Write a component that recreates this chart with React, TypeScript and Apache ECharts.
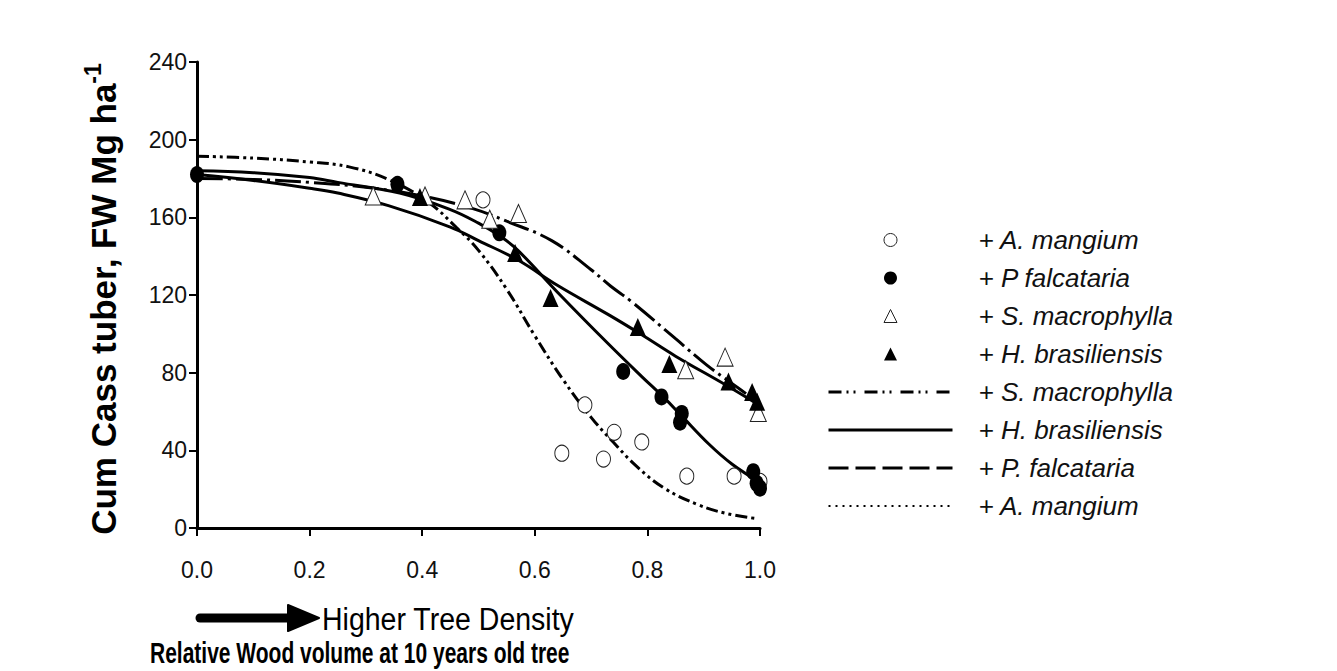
import React, { useEffect, useRef } from 'react';
import * as echarts from 'echarts';

// ---------- data ----------
const yTicks = { min: 0, max: 240, interval: 40 };
const xTicks = { min: 0, max: 1, interval: 0.2 };

// observed points [relative wood volume, cum cassava tuber FW Mg/ha]
const obsAMangium: number[][] = [
  [0.508, 169], [0.648, 38.5], [0.689, 63.4], [0.722, 35.5], [0.741, 49.3],
  [0.79, 44.3], [0.87, 26.7], [0.954, 26.7], [1.0, 24],
];
const obsPFalcataria: number[][] = [
  [0.0, 182], [0.356, 177], [0.537, 152], [0.757, 80.6], [0.825, 67.5],
  [0.861, 59], [0.858, 54.5], [0.988, 29], [0.994, 23], [1.0, 20.5],
];
const obsSMacrophylla: number[][] = [
  [0.313, 171], [0.405, 171], [0.476, 169], [0.52, 159], [0.571, 162],
  [0.868, 81.5], [0.938, 88], [0.997, 59.5],
];
const obsHBrasiliensis: number[][] = [
  [0.396, 170.5], [0.565, 141.6], [0.628, 118.4], [0.783, 103.5], [0.839, 84.4],
  [0.944, 75.4], [0.986, 70], [0.995, 65],
];

// fitted curves
const fitSMacrophylla: number[][] = [
  [0, 180], [0.1, 179.5], [0.2, 178], [0.3, 175.5], [0.4, 171], [0.49, 164.5],
  [0.55, 158], [0.63, 148], [0.7, 133], [0.735, 124.5], [0.77, 117], [0.85, 97.5],
  [0.905, 84], [0.95, 74.5], [1.0, 64],
];
const fitHBrasiliensis: number[][] = [
  [0, 182], [0.1, 179], [0.2, 175], [0.25, 172.5], [0.34, 166], [0.45, 155],
  [0.5, 148], [0.57, 138], [0.64, 125], [0.73, 110], [0.79, 99.5], [0.85, 88.5],
  [0.94, 73.5], [1.0, 63],
];
const fitPFalcataria: number[][] = [
  [0, 184], [0.1, 183], [0.2, 180.5], [0.25, 178], [0.36, 172.5], [0.45, 164],
  [0.5, 157], [0.54, 150], [0.57, 143], [0.645, 120], [0.73, 95], [0.79, 78],
  [0.83, 67], [0.86, 58], [0.91, 43], [0.95, 33], [1.0, 23.5],
];
const fitAMangium: number[][] = [
  [0, 191.5], [0.1, 190.5], [0.2, 188.5], [0.27, 186], [0.34, 179.5], [0.41, 168],
  [0.46, 155], [0.5, 143], [0.55, 123], [0.6, 99], [0.65, 76.5], [0.7, 57],
  [0.74, 44], [0.78, 32], [0.83, 20.5], [0.89, 12], [0.94, 7.5], [0.99, 5],
];

const legendLabels: Record<string, string> = {
  obsA: '+ A. mangium',
  obsP: '+ P falcataria',
  obsS: '+ S. macrophylla',
  obsH: '+ H. brasiliensis',
  fitS: '+ S. macrophylla',
  fitH: '+ H. brasiliensis',
  fitP: '+ P. falcataria',
  fitA: '+ A. mangium',
};

const yTitle = 'Cum Cass tuber, FW Mg ha';
const ySup = '-1';
const xTitle = 'Relative Wood volume at 10 years old tree';
const arrowLabel = 'Higher Tree Density';

const SANS = "'Liberation Sans', Arial, Helvetica, sans-serif";
const TRI = 'path://M0,-1L1,1L-1,1Z';
const HIDDEN_DOT = { color: 'rgba(0,0,0,0)', borderColor: 'rgba(0,0,0,0)', borderWidth: 0, opacity: 0 };

export default function App() {
  const ref = useRef<HTMLDivElement>(null);

  useEffect(() => {
    if (!ref.current) return;
    const chart = echarts.init(ref.current, undefined, { renderer: 'svg' });

    const openStyle = { color: '#ffffff', borderColor: '#222', borderWidth: 1, opacity: 1 };
    const fillStyle = { color: '#000000', borderColor: '#000', borderWidth: 0, opacity: 1 };

    const option: any = {
      animation: false,
      backgroundColor: '#ffffff',
      grid: { left: 197, right: 577, top: 62, bottom: 143, containLabel: false },
      xAxis: {
        type: 'value',
        min: xTicks.min,
        max: xTicks.max,
        interval: xTicks.interval,
        axisLine: { show: true, onZero: false, lineStyle: { color: '#000', width: 3 } },
        axisTick: { show: true, inside: false, length: 8, lineStyle: { color: '#000', width: 2 } },
        splitLine: { show: false },
        axisLabel: {
          color: '#111',
          fontFamily: SANS,
          fontSize: 23,
          margin: 30,
          formatter: (v: number) => v.toFixed(1),
        },
      },
      yAxis: {
        type: 'value',
        min: yTicks.min,
        max: yTicks.max,
        interval: yTicks.interval,
        axisLine: { show: true, onZero: false, lineStyle: { color: '#000', width: 3 } },
        axisTick: { show: true, inside: false, length: 8, lineStyle: { color: '#000', width: 2 } },
        splitLine: { show: false },
        axisLabel: { color: '#111', fontFamily: SANS, fontSize: 23, margin: 10 },
      },
      legend: {
        orient: 'vertical',
        left: 827,
        top: 227,
        padding: 0,
        itemWidth: 124,
        itemHeight: 13,
        itemGap: 12,
        selectedMode: false,
        symbolKeepAspect: true,
        formatter: (name: string) => legendLabels[name] || name,
        textStyle: {
          color: '#111',
          fontFamily: SANS,
          fontStyle: 'italic',
          fontSize: 26,
          lineHeight: 26,
          padding: [0, 0, 0, 21],
        },
        data: [
          { name: 'obsA', icon: 'circle', itemStyle: { color: '#fff', borderColor: '#222', borderWidth: 1, opacity: 1 } },
          { name: 'obsP', icon: 'circle', itemStyle: { color: '#000', borderWidth: 0, opacity: 1 } },
          { name: 'obsS', icon: TRI, itemStyle: { color: '#fff', borderColor: '#222', borderWidth: 1, opacity: 1 } },
          { name: 'obsH', icon: TRI, itemStyle: { color: '#000', borderWidth: 0, opacity: 1 } },
          { name: 'fitS', itemStyle: HIDDEN_DOT, lineStyle: { color: '#000', width: 3, type: [13, 5, 2, 5, 2, 9] } },
          { name: 'fitH', itemStyle: HIDDEN_DOT, lineStyle: { color: '#000', width: 3, type: 'solid' } },
          { name: 'fitP', itemStyle: HIDDEN_DOT, lineStyle: { color: '#000', width: 3, type: [20, 7] } },
          { name: 'fitA', itemStyle: HIDDEN_DOT, lineStyle: { color: '#000', width: 2, type: [2, 5] } },
        ],
      },
      series: [
        {
          name: 'fitS', type: 'line', data: fitSMacrophylla, smooth: 0.4, symbol: 'none',
          itemStyle: { color: '#000' },
          lineStyle: { color: '#000', width: 3, type: [26, 5, 3, 5] }, z: 2,
        },
        {
          name: 'fitH', type: 'line', data: fitHBrasiliensis, smooth: 0.4, symbol: 'none',
          itemStyle: { color: '#000' },
          lineStyle: { color: '#000', width: 3, type: 'solid' }, z: 2,
        },
        {
          name: 'fitP', type: 'line', data: fitPFalcataria, smooth: 0.4, symbol: 'none',
          itemStyle: { color: '#000' },
          lineStyle: { color: '#000', width: 3, type: 'solid' }, z: 2,
        },
        {
          name: 'fitA', type: 'line', data: fitAMangium, smooth: 0.4, symbol: 'none',
          itemStyle: { color: '#000' },
          lineStyle: { color: '#000', width: 3, type: [12, 4, 3, 4, 3, 4] }, z: 2,
        },
        {
          name: 'obsA', type: 'scatter', data: obsAMangium, symbol: 'circle',
          symbolSize: [14, 16], itemStyle: openStyle, z: 3,
        },
        {
          name: 'obsP', type: 'scatter', data: obsPFalcataria, symbol: 'circle',
          symbolSize: [14, 17], itemStyle: fillStyle, z: 3,
        },
        {
          name: 'obsS', type: 'scatter', data: obsSMacrophylla, symbol: 'triangle',
          symbolSize: [16, 18], itemStyle: openStyle, z: 3,
        },
        {
          name: 'obsH', type: 'scatter', data: obsHBrasiliensis, symbol: 'triangle',
          symbolSize: [16, 18], itemStyle: fillStyle, z: 3,
        },
      ],
      graphic: [
        {
          type: 'text',
          x: 101,
          y: 299,
          rotation: Math.PI / 2,
          style: {
            text: `{a|${yTitle}}{b|${ySup}}`,
            align: 'center',
            verticalAlign: 'middle',
            rich: {
              a: { fontFamily: SANS, fontWeight: 'bold', fontSize: 35, lineHeight: 40, fill: '#000', verticalAlign: 'bottom' },
              b: { fontFamily: SANS, fontWeight: 'bold', fontSize: 23, lineHeight: 22, fill: '#000', verticalAlign: 'top' },
            },
          },
        },
        {
          type: 'line',
          shape: { x1: 200, y1: 618, x2: 296, y2: 618 },
          style: { stroke: '#000', lineWidth: 9, lineCap: 'round' },
        },
        {
          type: 'polygon',
          shape: { points: [[288, 605], [319, 618], [288, 631]] },
          style: { fill: '#000', stroke: '#000', lineWidth: 2, lineJoin: 'round' },
        },
        {
          type: 'text',
          x: 322,
          y: 619,
          scaleX: 0.92,
          style: {
            text: arrowLabel,
            fontFamily: SANS,
            fontSize: 31,
            fill: '#000',
            align: 'left',
            verticalAlign: 'middle',
          },
        },
        {
          type: 'text',
          x: 150,
          y: 653,
          scaleX: 0.7,
          style: {
            text: xTitle,
            fontFamily: SANS,
            fontWeight: 'bold',
            fontSize: 30,
            fill: '#000',
            align: 'left',
            verticalAlign: 'middle',
          },
        },
      ],
    };

    chart.setOption(option);
    return () => chart.dispose();
  }, []);

  return (
    <div
      ref={ref}
      style={{ position: 'fixed', left: 0, top: 0, width: '1337px', height: '671px', background: '#fff' }}
    />
  );
}
